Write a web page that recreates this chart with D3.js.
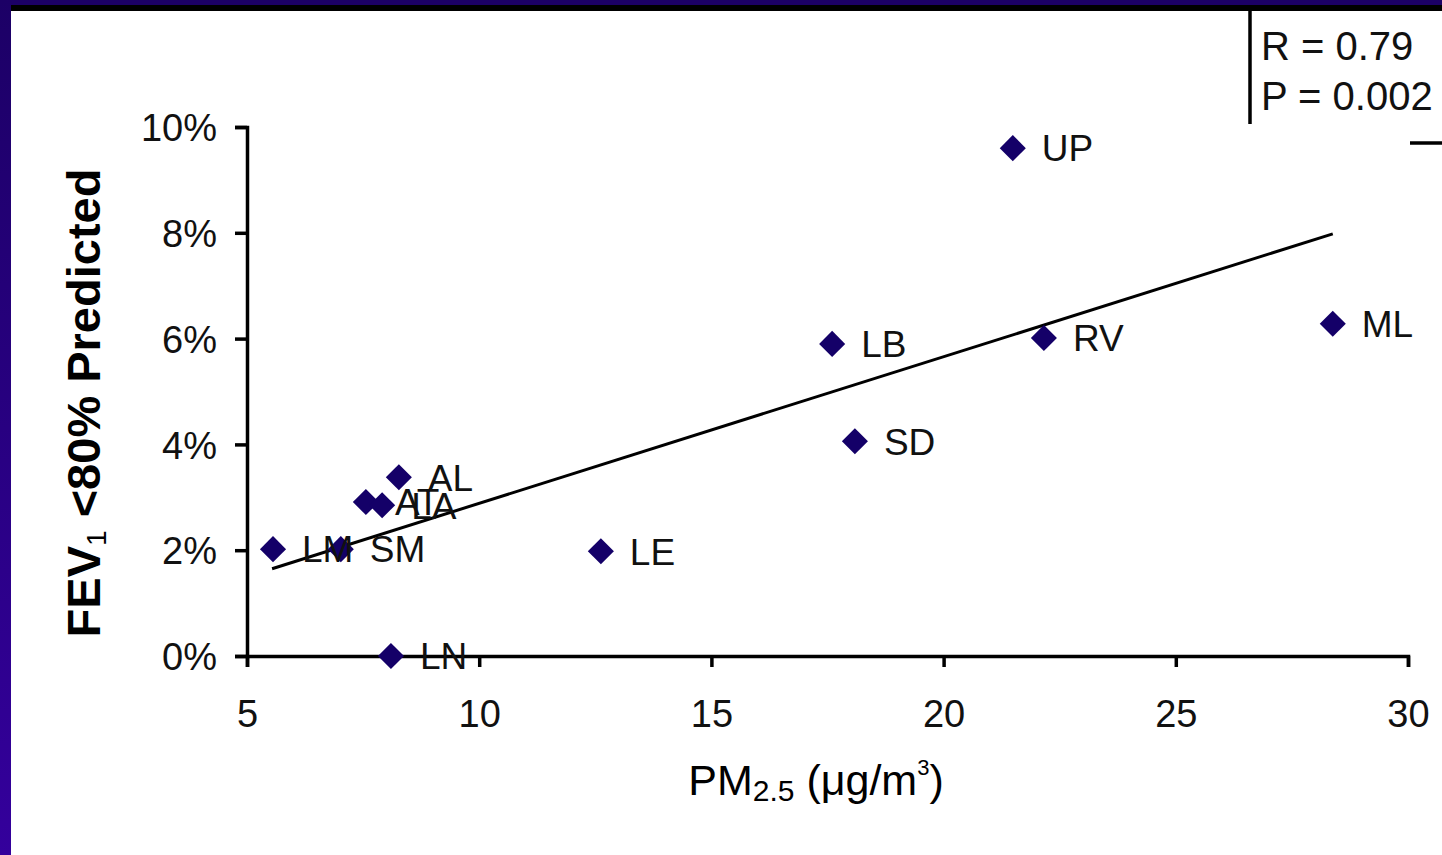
<!DOCTYPE html>
<html>
<head>
<meta charset="utf-8">
<script src="https://cdn.jsdelivr.net/npm/d3@7"></script>
<style>
  html, body { margin: 0; padding: 0; background: #fff; }
  svg { display: block; font-family: "Liberation Sans", Arial, sans-serif; }
</style>
</head>
<body>
<svg width="1442" height="855"></svg>
<script>
// community codes, PM2.5 and % with FEV1 < 80% predicted
const sites = ['UP', 'ML', 'RV', 'LB', 'SD', 'AL', 'AT', 'LA', 'LM', 'SM', 'LE', 'LN']
const pm25 = [21.49, 28.38, 22.16, 17.60, 18.09, 8.27, 7.56, 7.91, 5.56, 7.02, 12.62, 8.10]
const fev = [9.6, 6.28, 6.01, 5.90, 4.06, 3.38, 2.91, 2.85, 2.02, 2.02, 1.98, 0.0]

const xTicks = [5, 10, 15, 20, 25, 30]
const yTicks = [0, 2, 4, 6, 8, 10]

// fitted line endpoints
const trendX = [5.54, 28.38]
const trendY = [1.65, 7.98]

const stats = ['R = 0.79', 'P = 0.002']

const svg = d3.select('svg')

const margin = { top: 127, left: 247 }
const inner_width = 1408 - 247
const inner_height = 656 - 127

// purple frame
const grad = svg.append('defs').append('linearGradient')
    .attr('id', 'frame').attr('x1', 0).attr('y1', 0).attr('x2', 0).attr('y2', 1)
grad.append('stop').attr('offset', '0%').attr('stop-color', '#1c0066')
grad.append('stop').attr('offset', '100%').attr('stop-color', '#34009c')
svg.append('rect').attr('x', 0).attr('y', 0).attr('width', 1442).attr('height', 5).attr('fill', '#1c0066')
svg.append('rect').attr('x', 0).attr('y', 0).attr('width', 11).attr('height', 855).attr('fill', 'url(#frame)')
svg.append('rect').attr('x', 11).attr('y', 5).attr('width', 1431).attr('height', 6).attr('fill', '#000')

const x_scale = d3.scaleLinear().domain([5, 30]).range([0, inner_width])
const y_scale = d3.scaleLinear().domain([0, 10]).range([inner_height, 0])

const g = svg.append('g')
    .attr('transform', `translate(${margin.left},${margin.top})`)

const yAxis = g.append('g')
    .call(d3.axisLeft(y_scale).tickValues(yTicks).tickFormat(d => d + '%').tickSize(12).tickPadding(18))
const xAxis = g.append('g')
    .attr('transform', `translate(0,${inner_height})`)
    .call(d3.axisBottom(x_scale).tickValues(xTicks).tickSize(11).tickPadding(0))

for (const ax of [xAxis, yAxis]) {
    ax.select('.domain').attr('stroke', '#000').attr('stroke-width', 3.5)
    ax.selectAll('.tick line').attr('stroke', '#000').attr('stroke-width', 3.5)
    ax.selectAll('.tick text')
        .attr('fill', '#111')
        .style('font-size', '38px')
        .style('font-family', '"Liberation Sans", Arial, sans-serif')
}
yAxis.selectAll('.tick text').attr('dy', '0.36em')
xAxis.selectAll('.tick text').attr('y', 71).attr('dy', 0)

// trend line
g.append('line')
    .attr('x1', x_scale(trendX[0])).attr('y1', y_scale(trendY[0]))
    .attr('x2', x_scale(trendX[1])).attr('y2', y_scale(trendY[1]))
    .attr('stroke', '#000').attr('stroke-width', 3)

const data = sites.map((s, i) => ({ site: s, x: pm25[i], y: fev[i] }))

g.selectAll('path.pt').data(data)
    .enter().append('path')
    .attr('class', 'pt')
    .attr('d', d3.symbol(d3.symbolSquare, 340))
    .attr('transform', d => `translate(${x_scale(d.x)},${y_scale(d.y)}) rotate(45)`)
    .attr('fill', '#140068')

g.selectAll('text.lbl').data(data)
    .enter().append('text')
    .attr('class', 'lbl')
    .attr('x', d => x_scale(d.x) + 29)
    .attr('y', d => y_scale(d.y))
    .attr('dy', '0.36em')
    .attr('fill', '#111')
    .style('font-size', '37px')
    .text(d => d.site)

// axis titles
svg.append('text')
    .attr('transform', 'translate(100,403) rotate(-90)')
    .attr('text-anchor', 'middle')
    .style('font-size', '47px')
    .style('font-weight', 'bold')
    .call(t => {
        t.append('tspan').text('FEV')
        t.append('tspan').attr('dy', 6).style('font-size', '28px').style('font-weight', 'normal').text('1')
        t.append('tspan').attr('dy', -6).text(' <80% Predicted')
    })

svg.append('text')
    .attr('x', 816).attr('y', 795)
    .attr('text-anchor', 'middle')
    .style('font-size', '43px')
    .call(t => {
        t.append('tspan').text('PM')
        t.append('tspan').attr('dy', 6).style('font-size', '30px').text('2.5')
        t.append('tspan').attr('dy', -6).text(' (μg/m')
        t.append('tspan').attr('dy', -20).style('font-size', '22px').text('3')
        t.append('tspan').attr('dy', 20).text(')')
    })

// stats box
svg.append('line').attr('x1', 1250).attr('x2', 1250).attr('y1', 11).attr('y2', 124)
    .attr('stroke', '#000').attr('stroke-width', 3.5)
svg.append('line').attr('x1', 1410).attr('x2', 1442).attr('y1', 143).attr('y2', 143)
    .attr('stroke', '#000').attr('stroke-width', 3.5)
svg.selectAll('text.stat').data(stats)
    .enter().append('text')
    .attr('class', 'stat')
    .attr('x', 1261)
    .attr('y', (d, i) => 60 + i * 50)
    .attr('fill', '#111')
    .style('font-size', '40px')
    .text(d => d)
</script>
</body>
</html>
